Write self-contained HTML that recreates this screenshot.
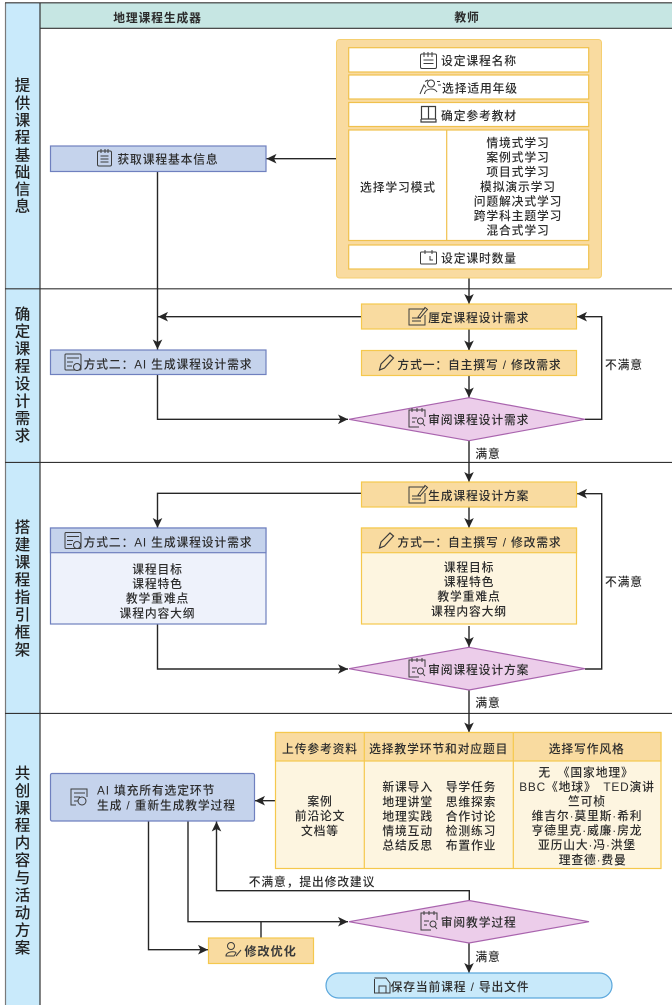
<!DOCTYPE html>
<html lang="zh">
<head>
<meta charset="utf-8">
<style>
html,body{margin:0;padding:0;background:#fff;width:672px;height:1005px;overflow:hidden}
svg{display:block;filter:blur(.3px)}
text{font-family:"Liberation Sans","Noto Sans CJK SC",sans-serif;font-size:11.8px;letter-spacing:.85px;fill:#2c2c2c;text-anchor:middle;dominant-baseline:central;font-weight:500;transform:translateY(.8px)}
.b{font-weight:700;fill:#2a2a2a}
.s{font-size:15.5px;letter-spacing:0;font-weight:500;fill:#222}
.m{font-size:12.2px;letter-spacing:.9px;font-weight:700;fill:#3a3a3a}
.l{text-anchor:start}
.e{fill:none;stroke:#262626;stroke-width:1.4}
.a{marker-end:url(#ar)}
.i{fill:none;stroke:#3c3c3c;stroke-width:1}
.y{fill:#f9dba0;stroke:#f5c84d;stroke-width:1.2}
.u{fill:#c5d3ec;stroke:#6f80bf;stroke-width:1.2}
.p{fill:#eccdea;stroke:#a964ae;stroke-width:1.2}
.w{fill:#fff;stroke:#f0c14d;stroke-width:1.2}
</style>
</head>
<body>
<svg width="672" height="1005" viewBox="0 0 672 1005" xmlns="http://www.w3.org/2000/svg">
<defs>
<marker id="ar" markerUnits="userSpaceOnUse" markerWidth="12" markerHeight="12" refX="10" refY="6" orient="auto"><path d="M0,1.2 L10,6 L0,10.8 L2.5,6z" fill="#262626"/></marker>
</defs>

<!-- frame -->
<rect x="5.5" y="3" width="35" height="1002" fill="#c9eafb"/>
<rect x="40" y="3" width="632" height="25" fill="#c6e6e3"/>
<path d="M5.5,3V1005" fill="none" stroke="#7a7a7a" stroke-width="1.2"/>
<path d="M40,3V1005" fill="none" stroke="#333" stroke-width="1.2"/>
<path d="M5,2.8H672M40,28.3H672M5,288.8H672M5,462.4H672M5,713.4H672" fill="none" stroke="#333" stroke-width="1.1"/>

<text x="157.5" y="17" class="b">地理课程生成器</text>
<text x="467" y="16.5" class="b">教师</text>

<!-- swimlane labels -->
<text class="s" x="22.5" y="85">提</text><text class="s" x="22.5" y="103">供</text><text class="s" x="22.5" y="120">课</text><text class="s" x="22.5" y="137">程</text><text class="s" x="22.5" y="155">基</text><text class="s" x="22.5" y="172">础</text><text class="s" x="22.5" y="189">信</text><text class="s" x="22.5" y="206">息</text>
<text class="s" x="22.5" y="314">确</text><text class="s" x="22.5" y="331.4">定</text><text class="s" x="22.5" y="348.8">课</text><text class="s" x="22.5" y="366.2">程</text><text class="s" x="22.5" y="383.6">设</text><text class="s" x="22.5" y="401">计</text><text class="s" x="22.5" y="418.4">需</text><text class="s" x="22.5" y="435.8">求</text>
<text class="s" x="22.5" y="527">搭</text><text class="s" x="22.5" y="544.5">建</text><text class="s" x="22.5" y="562">课</text><text class="s" x="22.5" y="579.5">程</text><text class="s" x="22.5" y="597">指</text><text class="s" x="22.5" y="614.5">引</text><text class="s" x="22.5" y="632">框</text><text class="s" x="22.5" y="649.5">架</text>
<text class="s" x="22.5" y="773">共</text><text class="s" x="22.5" y="790.5">创</text><text class="s" x="22.5" y="808">课</text><text class="s" x="22.5" y="825.4">程</text><text class="s" x="22.5" y="842.9">内</text><text class="s" x="22.5" y="860.4">容</text><text class="s" x="22.5" y="877.9">与</text><text class="s" x="22.5" y="895.3">活</text><text class="s" x="22.5" y="912.8">动</text><text class="s" x="22.5" y="930.3">方</text><text class="s" x="22.5" y="947.8">案</text>

<!-- connectors -->
<path class="e a" d="M336,158.7H266.5"/>
<path class="e a" d="M157.5,171V349.5"/>
<path class="e a" d="M469,278V304"/>
<path class="e a" d="M361,316.7H158"/>
<path class="e a" d="M469,329V350.5"/>
<path class="e a" d="M469,375.5V397.5"/>
<path class="e a" d="M157.5,374.5V419.3H348"/>
<path class="e a" d="M585,419.3H601.7V316.7H577"/>
<path class="e a" d="M469,440.5V482"/>
<path class="e a" d="M361,493.3H157.5V528"/>
<path class="e a" d="M469,507V528"/>
<path class="e a" d="M469,626V647"/>
<path class="e a" d="M157.5,624V669H348"/>
<path class="e a" d="M585,669H601.7V493.7H577"/>
<path class="e a" d="M469,690V732.5"/>
<path class="e a" d="M275,800.7H255"/>
<path class="e a" d="M469.3,900V890.7H216.5V821.5"/>
<path class="e a" d="M188,821V921.7H348"/>
<path class="e" d="M261,921.7V938"/>
<path class="e a" d="M148.5,821V949.7H208"/>
<path class="e a" d="M469,943V973"/>

<!-- top yellow container -->
<rect x="336.5" y="39.5" width="265" height="238.5" rx="3" fill="#f9dba0" stroke="#f5cf70"/>
<rect class="w" x="348.7" y="47.7" width="240" height="24.3"/>
<rect class="w" x="348.7" y="75" width="240" height="24"/>
<rect class="w" x="348.7" y="102.5" width="240" height="24"/>
<rect class="w" x="348.7" y="130" width="240" height="110.5"/>
<path d="M446.7,130V240.5" stroke="#f0c14d" stroke-width="1.2"/>
<rect class="w" x="348.7" y="245" width="240" height="24"/>

<text x="479" y="60">设定课程名称</text>
<text x="480" y="87.5">选择适用年级</text>
<text x="479" y="115">确定参考教材</text>
<text x="398" y="186.5">选择学习模式</text>
<text x="518" y="142">情境式学习</text>
<text x="518" y="156.5">案例式学习</text>
<text x="518" y="171">项目式学习</text>
<text x="518" y="186">模拟演示学习</text>
<text x="518" y="200.5">问题解决式学习</text>
<text x="518" y="215">跨学科主题学习</text>
<text x="518" y="229.5">混合式学习</text>
<text x="479" y="257.5">设定课时数量</text>

<!-- icons top -->
<g class="i"><rect x="420.5" y="54" width="16" height="14.5" rx="1.5"/><path d="M424,52V57M428,52V57M432,52V57M423.5,60H433.5M423.5,63.5H433.5"/></g>
<g class="i"><circle cx="431" cy="83.5" r="3.5"/><path d="M420,94L424,85L426,87.5M424.5,94C425,88 435,87.5 437,92M437,81.5H440M438,85H441M425,81.5L428,80"/></g>
<g class="i" style="stroke-width:1.2"><path d="M421.5,106.5H428.5V119H421.5zM428.5,106.5H435.5V119H428.5zM421,119V122H436V119"/></g>
<g class="i"><rect x="420.5" y="252" width="16" height="12" rx="1"/><path d="M425,250V254M432,250V254M430,256V260H433"/></g>

<!-- left boxes -->
<rect class="u" x="50.5" y="146" width="215.5" height="25.5"/>
<g class="i"><rect x="97.5" y="151" width="14" height="15" rx="1.5"/><path d="M101,149V153M105,149V153M108,149V153M100.5,156H108.5M100.5,159H108.5M100.5,162H108.5"/></g>
<text x="168" y="158.5">获取课程基本信息</text>

<rect class="u" x="50.5" y="350" width="215.5" height="24.5"/>
<g class="i"><rect x="65" y="354" width="16" height="16" rx="1"/><path d="M67,358H79M67,362H73M67,366H72"/><circle cx="77" cy="367" r="3.5" fill="#c5d3ec"/></g>
<text x="168" y="363.5">方式二：AI 生成课程设计需求</text>

<!-- 厘定 -->
<rect class="y" x="361.5" y="304" width="215" height="25"/>
<g class="i"><path d="M425,309H409V325H425V315M412,318H421M412,321H421"/><path d="M418,317L425,307.5L427.5,309.5L420,318z"/></g>
<text x="478.7" y="317">厘定课程设计需求</text>

<rect class="y" x="361.5" y="350.5" width="215" height="25"/>
<g class="i" style="stroke-width:1.2"><path d="M379.5,370L381,364L390,355L393.5,358L384.5,368z"/></g>
<text x="479.5" y="364">方式一：自主撰写 / 修改需求</text>

<polygon class="p" points="349,419.3 469,397.7 585,419.3 469,440.7"/>
<g class="i"><path d="M425,417V410H409V427H419M412,408V412M417,408V412M422,408V412M412,418H417M412,422H415"/><circle cx="420.5" cy="421" r="3"/><path d="M423,423.5L425,426"/></g>
<text x="478.7" y="419">审阅课程设计需求</text>

<text x="624" y="364">不满意</text>
<text x="488" y="453">满意</text>

<!-- 生成方案 -->
<rect class="y" x="361.5" y="482" width="215" height="25"/>
<g class="i"><path d="M425,487H409V503H425V493M412,496H421M412,499H421"/><path d="M418,495L425,485.5L427.5,487.5L420,496z"/></g>
<text x="478.7" y="495">生成课程设计方案</text>

<!-- box 2 left -->
<rect x="50.5" y="528" width="215.5" height="96" fill="#eef2fb" stroke="#6f80bf" stroke-width="1.2"/>
<rect class="u" x="50.5" y="528" width="215.5" height="24.7"/>
<g class="i"><rect x="65" y="532.5" width="16" height="16" rx="1"/><path d="M67,536.5H79M67,540.5H73M67,544.5H72"/><circle cx="77" cy="545" r="3.5" fill="#c5d3ec"/></g>
<text x="168" y="541.5">方式二：AI 生成课程设计需求</text>
<text x="157.5" y="568.5">课程目标</text>
<text x="157.5" y="583">课程特色</text>
<text x="157.5" y="597.5">教学重难点</text>
<text x="157.5" y="612.5">课程内容大纲</text>

<!-- box 2 right -->
<rect x="361.5" y="528" width="215" height="96" fill="#fdf5e0" stroke="#f5c84d" stroke-width="1.2"/>
<rect class="y" x="361.5" y="528" width="215" height="24.7"/>
<g class="i" style="stroke-width:1.2"><path d="M379.5,548L381,542L390,533L393.5,536L384.5,546z"/></g>
<text x="479.5" y="541.5">方式一：自主撰写 / 修改需求</text>
<text x="469" y="566.5">课程目标</text>
<text x="469" y="581">课程特色</text>
<text x="469" y="595.5">教学重难点</text>
<text x="469" y="610.5">课程内容大纲</text>

<polygon class="p" points="349,668.7 469,647.3 585,668.7 469,690"/>
<g class="i"><path d="M425,667V660H409V677H419M412,658V662M417,658V662M422,658V662M412,668H417M412,672H415"/><circle cx="420.5" cy="671" r="3"/><path d="M423,673.5L425,676"/></g>
<text x="478.7" y="669">审阅课程设计方案</text>
<text x="624" y="581">不满意</text>
<text x="488" y="702">满意</text>

<!-- table -->
<rect x="275.5" y="732.5" width="385.5" height="136" fill="#fdf5e0" stroke="#f5c84d" stroke-width="1.2"/>
<rect class="y" x="275.5" y="732.5" width="385.5" height="28.5"/>
<path d="M364.3,732.5V868.5M513.3,732.5V868.5" stroke="#f5c84d" stroke-width="1.2"/>
<text x="320" y="748">上传参考资料</text>
<text x="438.7" y="748">选择教学环节和对应题目</text>
<text x="586.7" y="748">选择写作风格</text>
<text x="320" y="800.5">案例</text>
<text x="320" y="815">前沿论文</text>
<text x="320" y="830">文档等</text>
<text x="407.7" y="786">新课导入</text><text x="471" y="786">导学任务</text>
<text x="407.7" y="801">地理讲堂</text><text x="471" y="801">思维探索</text>
<text x="407.7" y="815.5">地理实践</text><text x="471" y="815.5">合作讨论</text>
<text x="407.7" y="830">情境互动</text><text x="471" y="830">检测练习</text>
<text x="407.7" y="844.5">总结反思</text><text x="471" y="844.5">布置作业</text>
<text x="586" y="771.5">无　《国家地理》</text>
<text x="587" y="786">BBC《地球》　TED演讲</text>
<text x="587" y="800.5">竺可桢</text>
<text x="587" y="815">维吉尔·莫里斯·希利</text>
<text x="587" y="829.5">亨德里克·威廉·房龙</text>
<text x="587" y="844">亚历山大·冯·洪堡</text>
<text x="592.7" y="859">理查德·费曼</text>

<!-- AI box -->
<rect class="u" x="50.5" y="773.5" width="204" height="47.5" rx="1.5"/>
<g class="i"><path d="M87,797V789H71V805H76M74,793H85M74,797H80M74,801H78"/><circle cx="82" cy="801" r="4"/></g>
<text class="l" x="97" y="789.5">AI 填充所有选定环节</text>
<text class="l" x="97" y="804.5">生成 / 重新生成教学过程</text>

<text x="312" y="881">不满意，提出修改建议</text>

<!-- review 3 -->
<polygon class="p" points="349,921.7 469,900.5 589,921.7 469,943"/>
<g class="i"><path d="M437,920V913H421V930H431M424,911V915M429,911V915M434,911V915M424,921H429M424,925H427"/><circle cx="433" cy="924" r="3"/><path d="M435,926.5L437,929"/></g>
<text x="478.7" y="921.5">审阅教学过程</text>
<text x="488" y="956">满意</text>

<!-- 修改优化 -->
<rect class="y" x="208.5" y="938" width="105" height="25.5"/>
<g class="i"><circle cx="231" cy="946" r="3.5"/><path d="M226,956C226,951 236,951 236,953L234,956zM236,956L241,950"/></g>
<text x="270.5" y="950.5" class="m">修改优化</text>

<!-- save -->
<rect x="326" y="973" width="286" height="25" rx="12.5" fill="#c8e9fa" stroke="#5ba7dc" stroke-width="1.2"/>
<g class="i"><path d="M374.5,979V993H390V983L386,978H374.5M379,993V986H386V993"/></g>
<text x="460" y="986">保存当前课程 / 导出文件</text>
</svg>
</body>
</html>
